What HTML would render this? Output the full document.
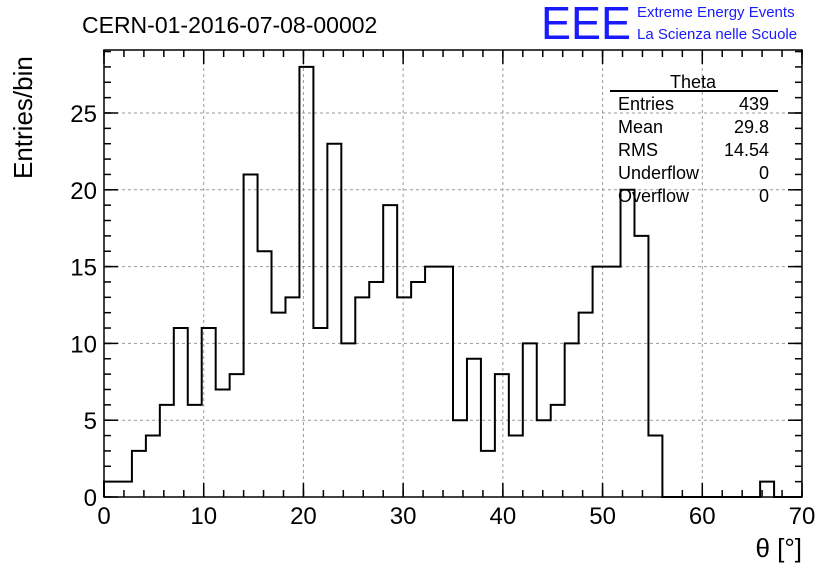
<!DOCTYPE html>
<html><head><meta charset="utf-8"><style>
body{margin:0;background:#fff;width:836px;height:572px;overflow:hidden;font-family:"Liberation Sans",sans-serif}
</style></head><body>
<svg width="836" height="572" style="font-family:'Liberation Sans',sans-serif">
<text x="82" y="33" font-size="23">CERN-01-2016-07-08-00002</text>
<text x="541" y="39" font-size="46" fill="#1a1aff" textLength="90" lengthAdjust="spacingAndGlyphs">EEE</text>
<text x="637" y="17" font-size="15" fill="#1a1aff">Extreme Energy Events</text>
<text x="637" y="39" font-size="15" fill="#1a1aff">La Scienza nelle Scuole</text>
<g id="grid"></g>
<path id="hist" fill="none" stroke="#000" stroke-width="2"/>
<rect x="104" y="50" width="698" height="447" fill="none" stroke="#000" stroke-width="1.5"/>
<g id="ticks"></g>
<text transform="translate(32,179) rotate(-90)" font-size="26">Entries/bin</text>
<text x="802" y="557" font-size="26" text-anchor="end">θ [°]</text>
<g font-size="18">
<text x="693" y="88" text-anchor="middle">Theta</text>
<line x1="610" y1="91" x2="778" y2="91" stroke="#000" stroke-width="2"/>
<text x="618" y="110">Entries</text><text x="769" y="110" text-anchor="end">439</text>
<text x="618" y="133">Mean</text><text x="769" y="133" text-anchor="end">29.8</text>
<text x="618" y="156">RMS</text><text x="769" y="156" text-anchor="end">14.54</text>
<text x="618" y="179">Underflow</text><text x="769" y="179" text-anchor="end">0</text>
<text x="618" y="202">Overflow</text><text x="769" y="202" text-anchor="end">0</text>
</g>
</svg>
<script>
const binWidth = 1.4;
const counts = [1,1,3,4,6,11,6,11,7,8,21,16,12,13,28,11,23,10,13,14,19,13,14,15,15,5,9,3,8,4,10,5,6,10,12,15,15,20,17,4,0,0,0,0,0,0,0,1,0,0];
const xTicks = [0,10,20,30,40,50,60,70];
const yTicks = [0,5,10,15,20,25];
const X0=104,X1=802,Y0=497,Y1=50;
const xs=v=>X0+(v/70)*(X1-X0);
const ys=v=>Y0-v*(Y0-113)/25;
const NS="http://www.w3.org/2000/svg";
let d=`M${xs(0)},${ys(0)}`;
counts.forEach((c,i)=>{d+=` L${xs(i*binWidth)},${ys(c)} L${xs((i+1)*binWidth)},${ys(c)}`;});
d+=` L${xs(counts.length*binWidth)},${ys(0)}`;
document.getElementById('hist').setAttribute('d',d);
const grid=document.getElementById('grid'),tk=document.getElementById('ticks');
function line(g,x1,y1,x2,y2,extra){const l=document.createElementNS(NS,'line');l.setAttribute('x1',x1);l.setAttribute('y1',y1);l.setAttribute('x2',x2);l.setAttribute('y2',y2);l.setAttribute('stroke',extra?'#999':'#000');l.setAttribute('stroke-width',extra?1:1.5);if(extra)l.setAttribute('stroke-dasharray','3,3');g.appendChild(l);return l;}
function txt(x,y,s,anchor){const t=document.createElementNS(NS,'text');t.setAttribute('x',x);t.setAttribute('y',y);t.setAttribute('font-size','24');t.setAttribute('text-anchor',anchor);t.textContent=s;tk.appendChild(t);return t;}
xTicks.forEach(v=>{const x=xs(v);
 if(v>0&&v<70){const g=line(grid,x,Y1,x,Y0,true);}
 line(tk,x,Y0,x,Y0-14);line(tk,x,Y1,x,Y1+14);
 const t=txt(x,524,String(v),'middle');
 
 });
for(let v=0;v<=70;v+=2){const x=xs(v);line(tk,x,Y0,x,Y0-7);line(tk,x,Y1,x,Y1+7);}
yTicks.forEach(v=>{const y=ys(v);
 if(v>0){const g=line(grid,X0,y,X1,y,true);}
 line(tk,X0,y,X0+14,y);line(tk,X1,y,X1-14,y);
 const t=txt(97,y+9,String(v),'end');
 
 });
for(let v=0;v<=29;v++){const y=ys(v);if(y<Y1)break;line(tk,X0,y,X0+7,y);line(tk,X1,y,X1-7,y);}
</script>
</body></html>
